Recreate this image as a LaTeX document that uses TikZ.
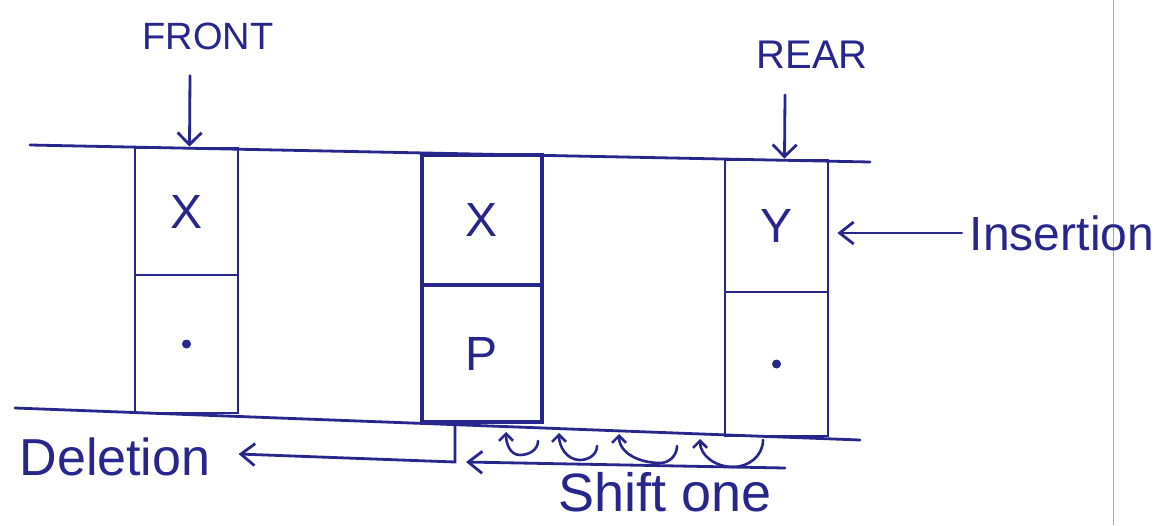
\documentclass[tikz,border=0pt]{standalone}
\usepackage{fontspec}
\setmainfont{Liberation Sans}
\usetikzlibrary{arrows.meta}
\definecolor{ink}{RGB}{38,38,140}
\begin{document}
\begin{tikzpicture}[x=1pt,y=-1pt,
  inkline/.style={draw=ink,line width=2.8pt,line cap=round},
  cell/.style={draw=ink,line width=2.8pt,inner sep=0pt,text=ink,
    font=\fontsize{48}{52}\selectfont},
  lbl/.style={text=ink,inner sep=0pt},
  barb/.style={-{Straight Barb[length=14pt,width=22pt]}},
  curl/.style={draw=ink,line width=2.6pt,line cap=round,{Straight Barb[length=7pt,width=14pt]}-},
  dotmark/.style={circle,fill=ink,minimum size=9pt,inner sep=0pt}]
\useasboundingbox (0,0) rectangle (1172,525);
\fill[white] (0,0) rectangle (1172,525);
% page margin line of the scan
\draw[gray!70,line width=0.8pt] (1113,0) -- (1113,525);

% the two long lines of the queue
\coordinate (topL) at (30,145);
\coordinate (topR) at (870,162);
\coordinate (botL) at (15,408);
\coordinate (botR) at (860,440);
\draw[inkline] (topL) -- (topR);
\draw[inkline] (botL) -- (botR);

% box 1
\node[cell,minimum width=103pt,minimum height=127pt] (b1top) at (186.5,211.5) {X};
\node[cell,minimum width=103pt,minimum height=138pt] (b1bot) at (186.5,344) {};
\node[dotmark] (d1) at (b1bot.center) {};

% box 2
\node[cell,line width=3.8pt,minimum width=120pt,minimum height=130pt] (b2top) at (482,220) {X};
\node[cell,line width=3.8pt,minimum width=120pt,minimum height=137pt] (b2bot) at (482,353.5) {P};

% box 3
\node[cell,minimum width=103pt,minimum height=132pt] (b3top) at (776.5,226) {Y};
\node[cell,minimum width=103pt,minimum height=144pt] (b3bot) at (776.5,364) {};
\node[dotmark] (d3) at (b3bot.center) {};

% labels
\node[lbl,font=\fontsize{38}{40}\selectfont] (front) at (208,36) {FRONT};
\node[lbl,font=\fontsize{40}{42}\selectfont] (rear) at (812,55) {REAR};
\node[lbl,font=\fontsize{48}{52}\selectfont] (ins) at (1062,233) {Insertion};
\node[lbl,font=\fontsize{52}{56}\selectfont] (del) at (115,457) {Deletion};
\node[lbl,font=\fontsize{54}{58}\selectfont] (shift) at (665,492) {Shift one};

% pointer arrows
\draw[inkline,-{Straight Barb[length=12pt,width=24pt]}] ([xshift=-18pt,yshift=-26pt]front.south) -- ([xshift=3pt]b1top.north);
\draw[inkline,-{Straight Barb[length=12pt,width=24pt]}] ([xshift=-27pt,yshift=-26pt]rear.south) -- ([xshift=8pt]b3top.north);

% insertion
\coordinate (insend) at ([xshift=8pt]b3top.east);
\draw[inkline,barb] ([xshift=-8pt]ins.west) -- (ins.west -| insend);

% deletion
\coordinate (dstart) at (455,425);
\coordinate (dcorner) at (455,462);
\draw[inkline,barb] (dstart) -- (dcorner) -- ([xshift=28pt,yshift=3pt]del.east);

% shift
\coordinate (sR) at (785,468);
\coordinate (sL) at (466,462);
\draw[inkline,barb] (sR) -- (sL);
\draw[curl] (506,432) to[out=-90,in=180] (520,455) to[out=0,in=-90] (538,441);
\draw[curl] (559,433) to[out=-90,in=180] (580,460) to[out=0,in=-90] (597,446);
\draw[curl] (619,434) to[out=-90,in=180] (660,463) to[out=0,in=-90] (677,446);
\draw[curl] (700,439) to[out=-90,in=180] (733,467) to[out=0,in=-90] (763,440);
\end{tikzpicture}
\end{document}
